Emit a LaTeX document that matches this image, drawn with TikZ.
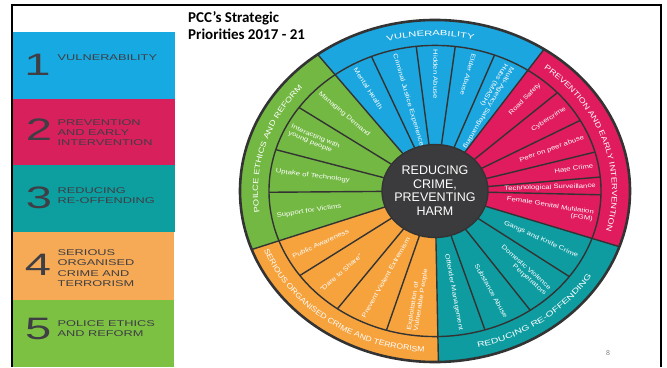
\documentclass[tikz,border=0pt]{standalone}
\usepackage{fontspec}
\setmainfont{Liberation Sans}
\newfontfamily\titlefont{Carlito}
\newfontfamily\panelfont[FakeStretch=1.52]{Liberation Sans}
\newfontfamily\itemfont[FakeStretch=1.25]{Liberation Sans}
\newfontfamily\ringVul[FakeStretch=1.5]{Liberation Sans}
\newfontfamily\ringPre[FakeStretch=1.23]{Liberation Sans}
\newfontfamily\ringRed[FakeStretch=1.39]{Liberation Sans}
\newfontfamily\ringSer[FakeStretch=1.16]{Liberation Sans}
\newfontfamily\ringPol[FakeStretch=1.25]{Liberation Sans}
\usetikzlibrary{decorations.text}

\definecolor{pblue}{HTML}{17A9E1}
\definecolor{ppink}{HTML}{D8205C}
\definecolor{pteal}{HTML}{0D9FA0}
\definecolor{porange}{HTML}{F7AA55}
\definecolor{pgreen}{HTML}{7DC143}
\definecolor{wblue}{HTML}{1BA6DF}
\definecolor{wpink}{HTML}{E01B5E}
\definecolor{wteal}{HTML}{0E9CA1}
\definecolor{worange}{HTML}{F6A33E}
\definecolor{wgreen}{HTML}{73B843}
\definecolor{ptext}{HTML}{3E3E44}
\definecolor{wline}{HTML}{333333}
\definecolor{hub}{HTML}{3B3B3D}

\tikzset{
  itemtext/.style={inner sep=0pt, text=white, font=\itemfont\fontsize{6.2}{7}\selectfont},
  numtext/.style={inner sep=0pt, text=ptext, font=\panelfont\fontsize{31}{31}\selectfont},
  paneltext/.style={inner sep=0pt, anchor=base west, text=ptext, font=\panelfont\fontsize{8.4}{9.7}\selectfont},
  sepline/.style={draw=wline, line width=1.4pt},
  framerule/.style={draw=black, line width=2.5pt},
}

% item reading from the rim towards the hub
\newcommand\itemin[3]{%
  \pgfmathsetmacro\itang{atan2(0.877*sin(#2),cos(#2))+180}%
  \node[itemtext, anchor=west, align=left, rotate=\itang] (#1) at (#2:161) {#3};}
% item reading from the hub towards the rim
\newcommand\itemout[3]{%
  \pgfmathsetmacro\itang{atan2(0.877*sin(#2),cos(#2))}%
  \node[itemtext, anchor=east, align=right, rotate=\itang] (#1) at (#2:161) {#3};}
\newcommand\wsector[3]{%
  \fill[#1] (0,0) -- (#2:195) arc[start angle=#2, end angle=#3, radius=195] -- cycle;}

\begin{document}
\begin{tikzpicture}[x=1pt,y=1pt]
\useasboundingbox (0,0) rectangle (667,367);
\fill[white] (0,0) rectangle (667,367);

% ---------- left panel ----------
\fill[pblue]   (13,268) rectangle (175,335);
\fill[ppink]   (13,202) rectangle (175,267.5);
\fill[pteal]   (13,135) rectangle (175,202);
\fill[porange] (13,67)  rectangle (174,135);
\fill[pgreen]  (13,0)   rectangle (174,67);

\node[numtext] (n1) at (37.5,302.3) {1};
\node[numtext] (n2) at (39,237.3) {2};
\node[numtext] (n3) at (39,169.5) {3};
\node[numtext] (n4) at (38,101.7) {4};
\node[numtext] (n5) at (38.3,38.3) {5};

\node[paneltext] (l1) at (57.5,306) {VULNERABILITY};
\node[paneltext] (l2a) at (57.5,241) {PREVENTION};
\node[paneltext] (l2b) at (57.5,231.2) {AND EARLY};
\node[paneltext] (l2c) at (57.5,221.4) {INTERVENTION};
\node[paneltext] (l3a) at (57.5,173.7) {REDUCING};
\node[paneltext] (l3b) at (57.5,163.7) {RE-OFFENDING};
\node[paneltext] (l4a) at (57.5,111) {SERIOUS};
\node[paneltext] (l4b) at (57.5,101) {ORGANISED};
\node[paneltext] (l4c) at (57.5,90.5) {CRIME AND};
\node[paneltext] (l4d) at (57.5,80.5) {TERRORISM};
\node[paneltext] (l5a) at (57.5,40.3) {POLICE ETHICS};
\node[paneltext] (l5b) at (57.5,30.3) {AND REFORM};

% ---------- title ----------
\node[anchor=base west, inner sep=0pt, font=\titlefont\bfseries\fontsize{15}{17}\selectfont] (t1) at (188,344.3) {PCC’s Strategic};
\node[anchor=base west, inner sep=0pt, font=\titlefont\bfseries\fontsize{15}{17}\selectfont] (t2) at (188,327) {Priorities 2017 - 21};

% ---------- wheel ----------
\begin{scope}[shift={(435,176)}, yscale=0.877]
  \wsector{wblue}{56}{127}
  \wsector{wgreen}{127}{200}
  \wsector{worange}{200}{271}
  \wsector{wteal}{271}{341}
  \wsector{wpink}{341}{416}
  % item separators
  \foreach \a in {69,83,96.5,112.5,145,163.5,180.5,215.5,234,253,-72.5,-55,-36,-1.5,5.5,15.5,29,42.5}
    \draw[sepline] (\a:53) -- (\a:166);
  % category separators
  \foreach \a in {56,127,200,271,341}
    \draw[sepline] (\a:53) -- (\a:195);
  \draw[sepline] (0,0) circle[radius=166];
  \draw[draw=wline, line width=2.6pt] (0,0) circle[radius=195];
  \fill[hub] (0,0) circle[radius=53];
  \draw[sepline] (0,0) circle[radius=53];

  \node[inner sep=0pt, text=white, align=center, font=\fontsize{12.5}{13.7}\selectfont] (hubtext) at (0,0.5)
    {REDUCING\\CRIME,\\PREVENTING\\HARM};

  % vulnerability
  \itemin{v1}{62.5}{Multi-Agency Safeguarding\\Hubs (MASH)}
  \itemin{v2}{76}{Elder Abuse}
  \itemin{v3}{89.75}{Hidden Abuse}
  \itemin{v4}{104.5}{Criminal Justice Experience}
  \itemin{v5}{119.75}{Mental Health}
  % prevention
  \itemout{p1}{49.25}{Road Safety}
  \itemout{p2}{35.75}{Cybercrime}
  \itemout{p3}{22.25}{Peer on peer abuse}
  \itemout{p4}{10.5}{Hate Crime}
  \itemout{p5}{2}{Technological Surveillance}
  \itemout{p6}{-10.25}{Female Genital Mutilation\\(FGM)}
  % reducing re-offending
  \itemout{r1}{-27.5}{Gangs and Knife Crime}
  \itemout{r2}{-45.5}{Domestic Violence\\Perpetrators}
  \itemout{r3}{-63.75}{Substance Abuse}
  \itemout{r4}{-80.75}{Offender Management}
  % serious organised crime
  \itemin{s1}{207.75}{Public Awareness}
  \itemin{s2}{224.75}{“Dare to Share”}
  \itemin{s3}{243.5}{Prevent Violent Extremism}
  \itemin{s4}{262}{Exploitation of\\Vulnerable People}
  % police ethics
  \itemin{e1}{136}{Managing Demand}
  \itemin{e2}{154.25}{Interacting with\\young people}
  \itemin{e3}{172}{Uptake of Technology}
  \itemin{e4}{190.25}{Support for Victims}
\end{scope}

% ring labels (curved)
\path[shift={(435,176)}, decorate, decoration={text along path, text align=center, text color=white,
  text={|\ringVul\fontsize{7.5}{7.5}\selectfont|VULNERABILITY}}]
  (126:177pt and 155.2pt) arc[start angle=126, end angle=57, x radius=177pt, y radius=155.2pt];
\path[shift={(435,176)}, decorate, decoration={text along path, text align=center, text color=white,
  text={|\ringPre\fontsize{7.5}{7.5}\selectfont|PREVENTION AND EARLY INTERVENTION}}]
  (55:177pt and 155.2pt) arc[start angle=55, end angle=-18, x radius=177pt, y radius=155.2pt];
\path[shift={(435,176)}, decorate, decoration={text along path, text align=center, text color=white,
  text={|\ringRed\fontsize{7.5}{7.5}\selectfont|REDUCING RE-OFFENDING}}]
  (-88:184pt and 161.4pt) arc[start angle=-88, end angle=-19, x radius=184pt, y radius=161.4pt];
\path[shift={(435,176)}, decorate, decoration={text along path, text align=center, text color=white,
  text={|\ringSer\fontsize{7.5}{7.5}\selectfont|SERIOUS ORGANISED CRIME AND TERRORISM}}]
  (199:184pt and 161.4pt) arc[start angle=199, end angle=269, x radius=184pt, y radius=161.4pt];
\path[shift={(435,176)}, decorate, decoration={text along path, text align=center, text color=white,
  text={|\ringPol\fontsize{7.5}{7.5}\selectfont|POILCE ETHICS AND REFORM}}]
  (199:177pt and 155.2pt) arc[start angle=199, end angle=128, x radius=177pt, y radius=155.2pt];

% slide number
\node[inner sep=0pt, text=gray, font=\fontsize{7}{7}\selectfont] (pnum) at (608,14) {8};

% ---------- frame ----------
\draw[framerule] (10.8,362) -- (662.2,362);
\draw[framerule] (12,363.2) -- (12,0);
\draw[framerule] (661,363.2) -- (661,0);
\end{tikzpicture}
\end{document}
